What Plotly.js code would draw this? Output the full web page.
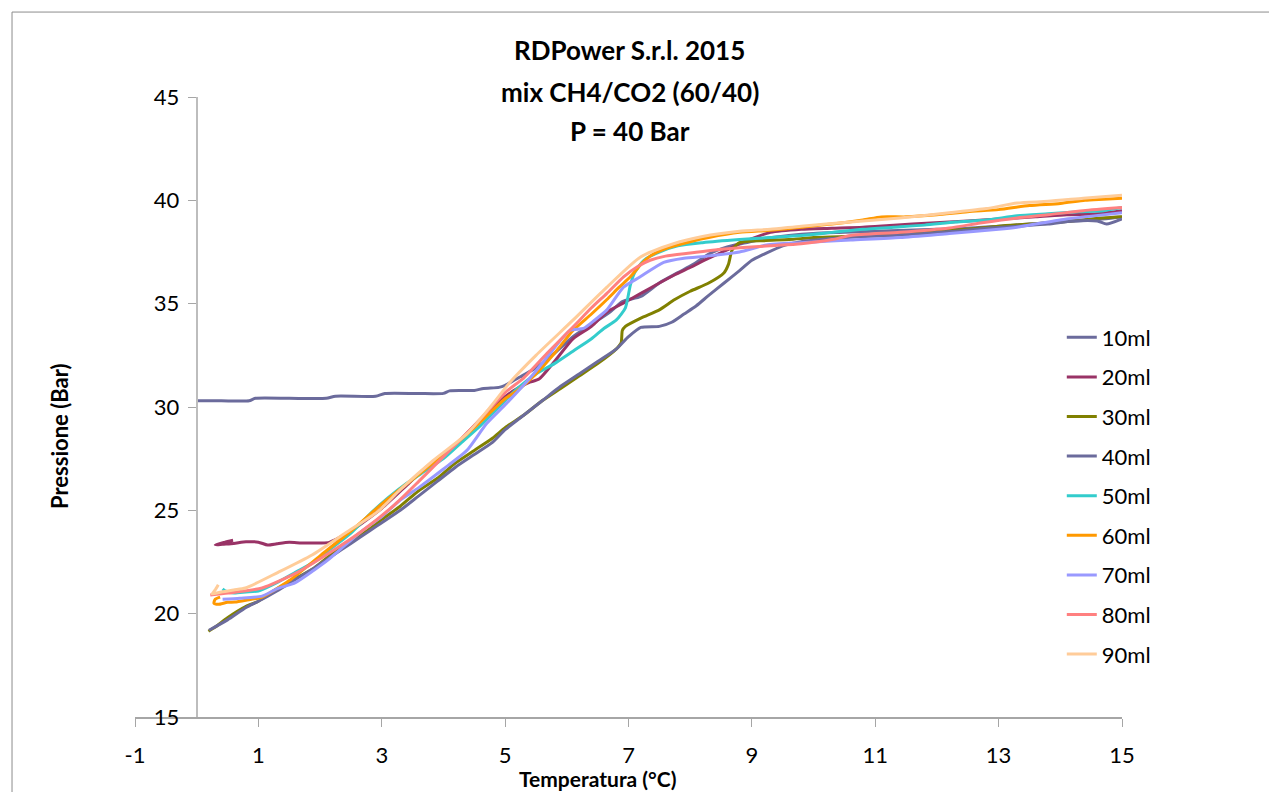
<!DOCTYPE html>
<html>
<head>
<meta charset="utf-8">
<script src="https://cdn.plot.ly/plotly-3.0.1.min.js"></script>
<style>html,body{margin:0;padding:0;background:#fff;}#chart{width:1269px;height:792px;}</style>
</head>
<body>
<div id="chart"></div>
<script>
// ---- data ----
const seriesNames = ["10ml","20ml","30ml","40ml","50ml","60ml","70ml","80ml","90ml"];

const x10 = [0.0,0.4,0.85,0.95,1.5,2.1,2.25,2.9,3.05,3.6,4.0,4.1,4.5,4.65,4.9,5.0,5.24,5.5,5.8,6.1,6.4,6.7,6.9,7.2,7.5,7.8,8.05,8.3,8.6,8.9,9.2,9.6,10.0,10.5,11.0,11.5,12.0,12.5,13.0,13.5,14.0,14.5,15.0];
const y10 = [30.3,30.3,30.3,30.42,30.42,30.42,30.52,30.52,30.65,30.65,30.66,30.78,30.8,30.9,30.95,31.05,31.45,31.9,32.6,33.4,34.0,34.6,35.1,35.35,36.0,36.5,36.9,37.4,37.75,37.95,38.15,38.3,38.4,38.45,38.5,38.55,38.6,38.65,38.75,38.85,38.95,39.05,39.2];

const x20 = [0.59,0.45,0.3,0.42,0.6,0.8,1.0,1.15,1.3,1.5,1.7,2.0,2.15,2.5,3.0,3.4,3.65,3.85,4.2,4.6,5.0,5.2,5.4,5.55,5.8,6.1,6.4,6.65,6.9,7.2,7.5,7.75,8.0,8.3,8.6,8.8,9.0,9.3,9.8,10.3,10.8,11.3,11.9,12.5,13.0,13.6,14.1,14.6,15.0];
const y20 = [23.55,23.45,23.33,23.36,23.4,23.48,23.46,23.32,23.38,23.45,23.42,23.42,23.45,24.0,25.1,26.2,26.9,27.4,28.2,29.4,30.5,30.9,31.2,31.35,32.2,33.3,33.9,34.6,35.0,35.5,36.0,36.4,36.75,37.2,37.6,37.9,38.15,38.45,38.6,38.65,38.7,38.8,38.9,39.0,39.1,39.2,39.3,39.35,39.5];

const x30 = [0.19,0.3,0.5,0.8,1.0,1.3,1.6,1.9,2.2,2.5,2.8,3.0,3.3,3.6,3.9,4.2,4.5,4.8,5.0,5.3,5.6,5.9,6.2,6.5,6.8,6.88,6.9,6.95,7.2,7.5,7.75,8.0,8.3,8.55,8.62,8.68,8.8,9.2,9.6,10.0,10.5,11.0,11.5,12.0,12.5,13.0,13.5,14.0,14.5,15.0];
const y30 = [19.15,19.35,19.8,20.35,20.6,21.2,21.7,22.2,22.9,23.5,24.1,24.55,25.2,25.95,26.55,27.3,27.9,28.5,29.0,29.6,30.3,30.9,31.5,32.1,32.8,33.1,33.7,33.9,34.3,34.7,35.2,35.6,36.0,36.5,36.9,37.6,37.95,38.05,38.1,38.2,38.25,38.35,38.4,38.5,38.6,38.75,38.85,38.95,39.1,39.2];

const x40 = [0.2,0.5,0.8,1.0,1.3,1.6,1.9,2.2,2.5,2.8,3.0,3.3,3.6,3.9,4.2,4.5,4.8,5.0,5.3,5.6,5.9,6.2,6.5,6.8,7.0,7.2,7.5,7.7,7.9,8.1,8.3,8.55,8.8,9.0,9.2,9.5,9.8,10.3,10.8,11.3,11.8,12.3,12.8,13.3,13.8,14.2,14.6,14.75,15.0];
const y40 = [19.2,19.7,20.3,20.6,21.1,21.65,22.2,22.8,23.4,24.0,24.4,25.0,25.7,26.4,27.1,27.7,28.3,28.9,29.6,30.3,31.0,31.6,32.2,32.8,33.4,33.85,33.9,34.1,34.5,34.9,35.4,36.0,36.6,37.1,37.4,37.8,38.0,38.15,38.25,38.3,38.4,38.5,38.65,38.75,38.85,39.0,39.0,38.85,39.1];

const x50 = [0.42,0.46,0.6,0.8,1.0,1.3,1.6,1.9,2.2,2.5,2.8,3.1,3.4,3.7,4.0,4.3,4.6,4.9,5.2,5.5,5.8,6.1,6.4,6.6,6.8,6.95,7.03,7.1,7.25,7.5,7.8,8.2,8.8,9.3,9.8,10.3,10.8,11.3,11.8,12.3,12.8,13.3,13.8,14.3,14.7,15.0];
const y50 = [21.2,21.1,21.0,21.05,21.1,21.5,22.0,22.5,23.2,23.9,24.8,25.6,26.3,26.9,27.5,28.3,29.1,30.0,30.9,31.6,32.1,32.7,33.3,33.8,34.2,34.8,35.9,36.5,37.1,37.5,37.8,37.95,38.1,38.2,38.3,38.45,38.6,38.7,38.8,38.95,39.05,39.25,39.35,39.45,39.5,39.65];

const x60 = [0.38,0.3,0.28,0.35,0.5,0.62,0.8,1.06,1.5,2.0,2.5,3.0,3.5,4.0,4.5,5.0,5.2,5.5,5.8,6.1,6.4,6.65,6.85,7.03,7.2,7.35,7.55,7.75,8.0,8.3,8.8,9.3,9.8,10.3,10.8,11.1,11.5,12.0,12.5,13.0,13.5,14.0,14.4,14.7,15.0];
const y60 = [20.8,20.7,20.5,20.45,20.55,20.56,20.65,20.8,21.6,22.8,24.0,25.3,26.5,27.7,29.0,30.4,30.8,31.6,32.6,33.7,34.5,35.2,35.8,36.3,36.9,37.3,37.6,37.8,38.0,38.2,38.45,38.55,38.7,38.85,39.05,39.2,39.2,39.3,39.45,39.55,39.75,39.85,40.0,40.05,40.1];

const x70 = [0.42,0.7,1.06,1.3,1.6,1.9,2.13,2.4,2.68,3.0,3.3,3.6,4.0,4.38,4.7,5.03,5.46,5.73,6.05,6.27,6.45,6.65,6.92,7.19,7.57,7.9,8.27,8.8,9.24,9.8,10.6,11.4,12.2,13.0,13.3,14.1,14.4,15.0];
const y70 = [20.7,20.75,20.85,21.2,21.5,22.1,22.6,23.3,24.0,24.7,25.5,26.1,27.0,27.9,29.2,30.2,31.6,32.6,33.7,33.8,34.2,34.7,35.8,36.3,37.0,37.2,37.3,37.5,37.84,37.95,38.08,38.2,38.4,38.6,38.7,39.1,39.2,39.4];

const x80 = [0.22,0.51,1.06,1.6,2.13,2.68,3.22,3.6,4.0,4.5,5.0,5.3,5.68,6.1,6.4,6.65,6.92,7.15,7.35,7.6,8.0,8.4,8.8,9.3,9.8,10.3,10.6,11.4,12.2,12.7,13.3,13.8,14.37,15.0];
const y80 = [20.9,21.0,21.24,21.95,22.9,24.0,25.3,26.4,27.6,29.1,30.7,31.4,32.6,33.87,34.8,35.5,36.3,36.8,37.1,37.3,37.45,37.6,37.7,37.8,37.9,38.1,38.3,38.45,38.66,38.9,39.15,39.3,39.5,39.65];

const x90 = [0.35,0.3,0.25,0.4,0.6,0.79,1.32,1.87,2.41,2.94,3.3,3.83,4.38,4.76,5.08,5.5,6.1,6.65,7.19,7.73,8.2,8.8,9.3,9.8,10.6,11.4,12.2,12.8,13.3,13.8,14.37,15.0];
const y90 = [21.4,21.15,20.95,21.05,21.15,21.24,22.0,22.84,23.9,24.95,26.0,27.4,28.7,30.0,31.2,32.5,34.2,35.8,37.25,37.9,38.25,38.5,38.6,38.75,38.95,39.15,39.4,39.6,39.87,39.95,40.1,40.25];

const seriesColors = ["#6B6B9C","#993366","#808000","#6B6B9C","#33CCCC","#FF9900","#9999FF","#FF8080","#FFCC99"];

const xTickVals = [-1,1,3,5,7,9,11,13,15];
const yTickVals = [15,20,25,30,35,40,45];
const titleLines = ["RDPower S.r.l. 2015","mix CH4/CO2 (60/40)","P = 40 Bar"];
const xTitle = "Temperatura (°C)";
const yTitle = "Pressione (Bar)";

// ---- build ----
const xs = [x10,x20,x30,x40,x50,x60,x70,x80,x90];
const ys = [y10,y20,y30,y40,y50,y60,y70,y80,y90];
const FONT = "Lato, 'Open Sans', sans-serif";

const traces = seriesNames.map((n,i)=>({
  type:"scatter", mode:"lines", name:n, x:xs[i], y:ys[i],
  legendgroup:"g"+i,
  line:{color:seriesColors[i], width:3, shape:"spline", smoothing:0.6}
}));

const titleY = [1.0758, 1.0081, 0.9452];
const annotations = titleLines.map((t,i)=>({
  text:"<b>"+t+"</b>", xref:"paper", yref:"paper", x:0.5015, y:titleY[i],
  xanchor:"center", yanchor:"middle", showarrow:false,
  font:{family:FONT, size:26, color:"#000"}
}));
annotations.push({text:"<b>"+xTitle+"</b>", xref:"paper", yref:"paper", x:0.469, y:-0.099,
  xanchor:"center", yanchor:"middle", showarrow:false, font:{family:FONT, size:21, color:"#000"}});
annotations.push({text:"<b>"+yTitle+"</b>", xref:"paper", yref:"paper", x:-0.077, y:0.4516,
  xanchor:"center", yanchor:"middle", showarrow:false, textangle:-90, font:{family:FONT, size:22, color:"#000"}});

const layout = {
  width:1269, height:792,
  margin:{l:135, r:147, t:97, b:75, pad:0},
  paper_bgcolor:"#fff", plot_bgcolor:"#fff",
  font:{family:FONT, size:22, color:"#000"},
  showlegend:true,
  legend:{x:0.939, xanchor:"left", y:0.646, yanchor:"top", tracegroupgap:8,
          font:{family:FONT, size:22, color:"#000"}, bgcolor:"rgba(0,0,0,0)"},
  xaxis:{range:[-1,15], tickvals:xTickVals, ticktext:xTickVals.map(String), showgrid:false, zeroline:false,
         showline:true, linecolor:"#A6A6A6", linewidth:1.5, ticks:"outside", ticklen:8, tickcolor:"#A6A6A6",
         ticklabelstandoff:10, tickfont:{family:FONT, size:22, color:"#000"}},
  yaxis:{range:[15,45], tickvals:yTickVals, ticktext:yTickVals.map(String), anchor:"free", position:0.0625,
         showgrid:false, zeroline:false, showline:true, linecolor:"#BDBDBD", linewidth:2, ticks:"outside",
         ticklen:8, tickcolor:"#A6A6A6", ticklabelstandoff:4, tickfont:{family:FONT, size:22, color:"#000"}},
  annotations: annotations,
  shapes:[
    {type:"line", xref:"paper", yref:"paper", x0:-0.1246, x1:1.2, y0:1.137, y1:1.137, line:{color:"#8C8C8C", width:1}},
    {type:"line", xref:"paper", yref:"paper", x0:-0.1246, x1:-0.1246, y0:1.137, y1:-0.2, line:{color:"#8C8C8C", width:1}}
  ]
};

Plotly.newPlot("chart", traces, layout, {displayModeBar:false, staticPlot:true});
</script>
</body>
</html>
